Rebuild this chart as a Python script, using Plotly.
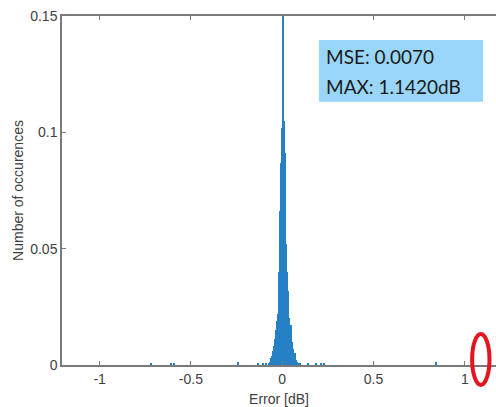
import plotly.graph_objects as go

# Histogram bins (centers) and normalized counts
bin_centers = [-0.0743, -0.0688, -0.0633, -0.0578, -0.0523, -0.0468, -0.0413, -0.0358,
               -0.0303, -0.0248, -0.0193, -0.0138, -0.0083, -0.0028, 0.0027, 0.0082,
               0.0137, 0.0192, 0.0247, 0.0302, 0.0357, 0.0412, 0.0467, 0.0522,
               0.0577, 0.0632, 0.0687, 0.0742, 0.0797, 0.0852, 0.0907]
bin_heights = [0.001, 0.0015, 0.003, 0.004, 0.006, 0.008, 0.011, 0.015,
               0.019, 0.022, 0.040, 0.066, 0.087, 0.102, 0.150, 0.105,
               0.091, 0.052, 0.040, 0.032, 0.020, 0.016, 0.017, 0.010,
               0.007, 0.004, 0.005, 0.002, 0.0015, 0.001, 0.0007]

outlier_centers = [-0.718, -0.607, -0.59, -0.24, -0.13, -0.105, -0.09, 0.10, 0.14, 0.186, 0.21, 0.23, 0.843]
outlier_heights = [0.0008, 0.0008, 0.0008, 0.0015, 0.001, 0.001, 0.0008, 0.001, 0.0008, 0.001, 0.0008, 0.0008, 0.0015]

bin_width = 0.0058

x_ticks = [-1, -0.5, 0, 0.5, 1]
x_tick_text = ["-1", "-0.5", "0", "0.5", "1"]
y_ticks = [0, 0.05, 0.1, 0.15]
y_tick_text = ["0", "0.05", "0.1", "0.15"]

stats_lines = ["MSE: 0.0070", "MAX: 1.1420dB"]

bar_color = "rgb(38,128,196)"

fig = go.Figure()
fig.add_trace(go.Bar(
    x=bin_centers + outlier_centers,
    y=bin_heights + outlier_heights,
    width=[bin_width] * (len(bin_centers) + len(outlier_centers)),
    marker=dict(color=bar_color, line=dict(width=0)),
    showlegend=False,
))

axis_col = "#7a7a7a"
text_col = "#404040"

fig.update_layout(
    width=496, height=407,
    margin=dict(l=62, r=0, t=16, b=42),
    plot_bgcolor="white", paper_bgcolor="white",
    bargap=0,
    font=dict(family="Liberation Sans, Arial, sans-serif", size=14, color=text_col),
    xaxis=dict(
        range=[-1.206, 1.171],
        tickvals=x_ticks, ticktext=x_tick_text,
        ticks="inside", ticklen=4, tickcolor=axis_col,
        showline=True, linecolor=axis_col, linewidth=1.5, mirror="ticks",
        showgrid=False, zeroline=False,
        title=dict(text="Error [dB]", font=dict(size=14, color=text_col), standoff=9),
    ),
    yaxis=dict(
        range=[0, 0.15],
        tickvals=y_ticks, ticktext=y_tick_text,
        ticks="inside", ticklen=4, tickcolor=axis_col,
        showline=True, linecolor=axis_col, linewidth=1.5,
        showgrid=False, zeroline=False,
        title=dict(text="Number of occurences", font=dict(size=14, color=text_col), standoff=3),
    ),
)

# Statistics box
fig.add_shape(type="rect", xref="paper", yref="paper",
              x0=0.592, x1=0.970, y0=0.754, y1=0.931,
              fillcolor="rgb(153,214,249)", line=dict(width=0), layer="above")
fig.add_annotation(xref="paper", yref="paper", x=0.604, y=0.885,
                   text=stats_lines[0], showarrow=False, xanchor="left", yanchor="middle",
                   font=dict(family="Lato, Noto Sans, sans-serif", size=19, color="#1a1a1a"))
fig.add_annotation(xref="paper", yref="paper", x=0.604, y=0.797,
                   text=stats_lines[1], showarrow=False, xanchor="left", yanchor="middle",
                   font=dict(family="Lato, Noto Sans, sans-serif", size=19, color="#1a1a1a"))

# Red ellipse highlight
fig.add_shape(type="circle", xref="paper", yref="paper",
              x0=0.945, x1=0.985, y0=-0.057, y1=0.089,
              line=dict(color="rgb(230,20,30)", width=4), fillcolor="rgba(0,0,0,0)", layer="above")

fig.write_html("out.html", config={"displayModeBar": False})

# remove default page margin so the figure sits at the window's top-left corner
with open("out.html", "r", encoding="utf-8") as f:
    html = f.read()
html = html.replace("<body>", '<body style="margin:0;padding:0;overflow:hidden">', 1)
with open("out.html", "w", encoding="utf-8") as f:
    f.write(html)
